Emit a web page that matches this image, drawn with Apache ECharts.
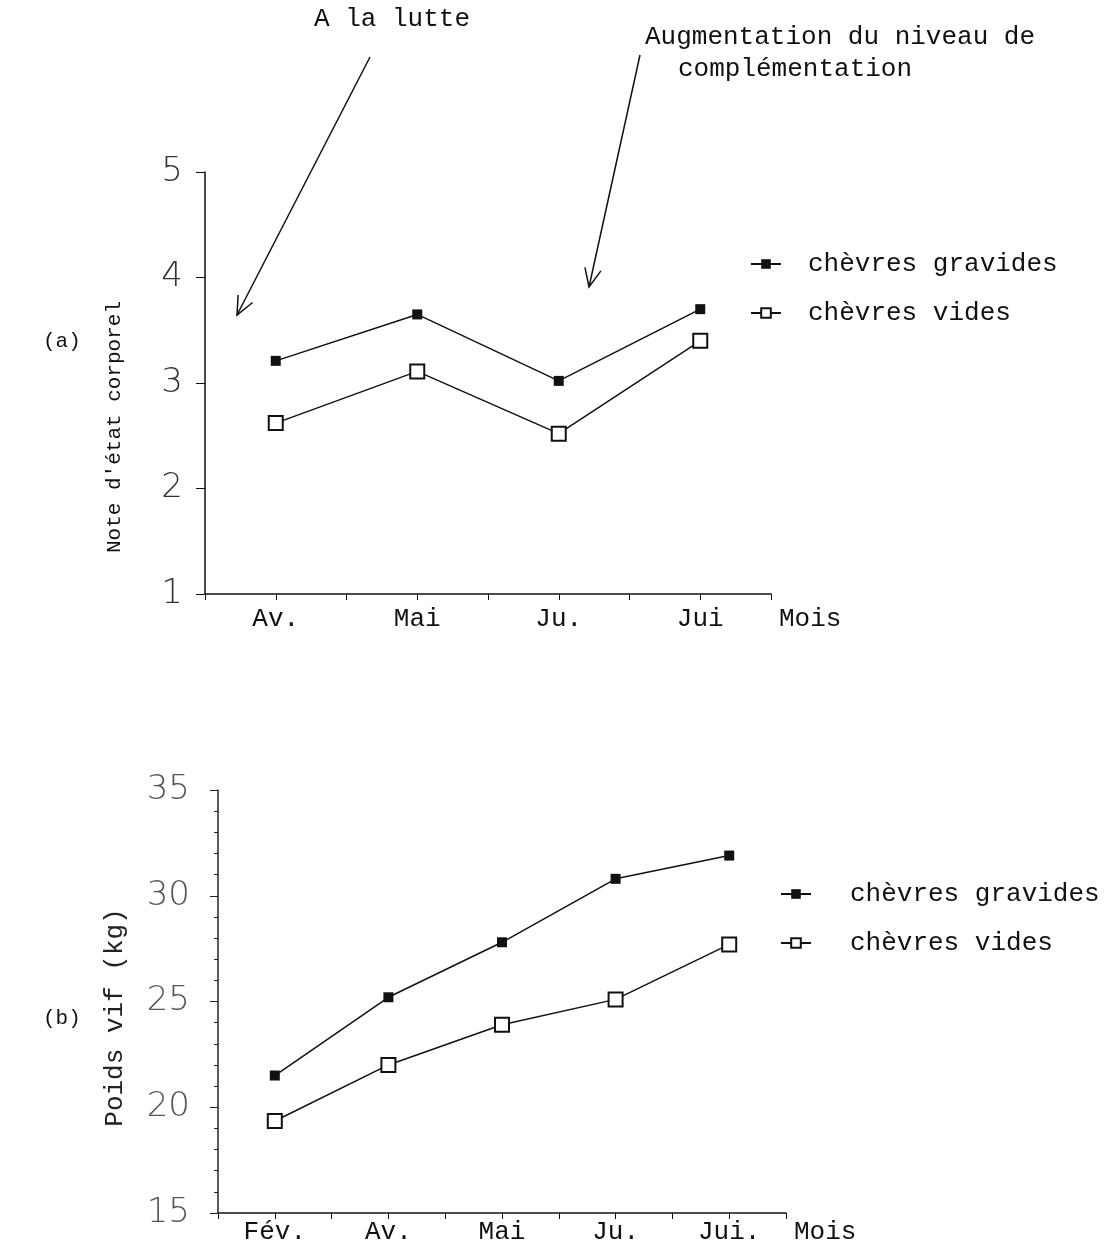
<!DOCTYPE html>
<html>
<head>
<meta charset="utf-8">
<script src="https://cdn.jsdelivr.net/npm/echarts@6/dist/echarts.min.js"></script>
<style>
	html, body { margin: 0; padding: 0; background: #fff; }
	#chart { width: 1119px; height: 1248px; }
</style>
</head>
<body>
<div id="chart"></div>
<script>
// (a) note d'état corporel
const monthsA = [ "Av.", "Mai", "Ju.", "Jui" ];
const slotsA = [ 1, 3, 5, 7 ];
const gravidesA = [ 3.21, 3.65, 3.02, 3.70 ];
const videsA = [ 2.62, 3.11, 2.52, 3.40 ];

// (b) poids vif
const monthsB = [ "Fév.", "Av.", "Mai", "Ju.", "Jui." ];
const slotsB = [ 1, 3, 5, 7, 9 ];
const gravidesB = [ 21.5, 25.2, 27.8, 30.8, 31.9 ];
const videsB = [ 19.35, 22.0, 23.9, 25.1, 27.7 ];

const mono = "Liberation Mono, DejaVu Sans Mono, monospace";
const thin = "DejaVu Sans, sans-serif";

const chart = echarts.init( document.getElementById( "chart" ) );

function labelFor( months, slots ) {
	return v => {
		const i = slots.indexOf( v );
		return i >= 0 ? months[ i ] : "";
	};
}

function arrow( x1, y1, x2, y2 ) {
	const a = Math.atan2( y2 - y1, x2 - x1 );
	const len = 20, spread = 0.42;
	const p1 = [ x2 - len * Math.cos( a - spread ), y2 - len * Math.sin( a - spread ) ];
	const p2 = [ x2 - len * Math.cos( a + spread ), y2 - len * Math.sin( a + spread ) ];
	return [
		{ type: "line", shape: { x1, y1, x2, y2 }, style: { stroke: "#111", lineWidth: 1.5 } },
		{ type: "polyline", shape: { points: [ p1, [ x2, y2 ], p2 ] }, style: { stroke: "#111", lineWidth: 1.5, fill: null } }
	];
}

function xAxisFor( gridIndex, max, months, slots, margin ) {
	return {
		type: "value",
		gridIndex,
		min: 0,
		max,
		interval: 1,
		name: "Mois",
		nameLocation: "end",
		nameGap: 8,
		nameTextStyle: { fontFamily: mono, fontSize: 26, color: "#111", verticalAlign: "top", padding: [ margin, 0, 0, 0 ] },
		axisLine: { lineStyle: { color: "#111", width: 1.5 } },
		axisTick: { inside: false, length: 6, lineStyle: { color: "#111" } },
		axisLabel: { margin, fontFamily: mono, fontSize: 26, color: "#111", formatter: labelFor( months, slots ), showMinLabel: true, showMaxLabel: true },
		splitLine: { show: false }
	};
}

function pairs( slots, vals ) {
	return slots.map( ( s, i ) => [ s, vals[ i ] ] );
}

const gravStyle = {
	symbol: "rect",
	symbolSize: 10,
	lineStyle: { color: "#111", width: 1.5 },
	itemStyle: { color: "#111" }
};
const videStyle = {
	symbol: "emptyRect",
	symbolSize: 14,
	lineStyle: { color: "#111", width: 1.5 },
	itemStyle: { color: "#111", borderWidth: 1.5 }
};

chart.setOption( {
	animation: false,
	backgroundColor: "#fff",
	grid: [
		{ left: 205, top: 172, width: 566, height: 422 },
		{ left: 218, top: 790, width: 568, height: 423 }
	],
	xAxis: [
		xAxisFor( 0, 8, monthsA, slotsA, 12 ),
		xAxisFor( 1, 10, monthsB, slotsB, 6 )
	],
	yAxis: [
		{
			type: "value",
			gridIndex: 0,
			min: 1,
			max: 5,
			interval: 1,
			name: "Note d'état corporel",
			nameLocation: "middle",
			nameRotate: 90,
			nameGap: 80,
			nameTextStyle: { fontFamily: mono, fontSize: 21, color: "#111", padding: [ 0, 88, 0, 0 ] },
			axisLine: { lineStyle: { color: "#111", width: 1.5 } },
			axisTick: { length: 9, lineStyle: { color: "#111" } },
			axisLabel: { margin: 22, fontFamily: thin, fontWeight: 200, fontSize: 34, color: "#333" },
			splitLine: { show: false }
		},
		{
			type: "value",
			gridIndex: 1,
			min: 15,
			max: 35,
			interval: 5,
			name: "Poids vif (kg)",
			nameLocation: "middle",
			nameRotate: 90,
			nameGap: 90,
			nameTextStyle: { fontFamily: mono, fontSize: 26, color: "#222", padding: [ 0, 32, 0, 0 ] },
			axisLine: { lineStyle: { color: "#222", width: 1.5 } },
			axisTick: { length: 8, lineStyle: { color: "#222" } },
			minorTick: { show: true, splitNumber: 5, length: 4, lineStyle: { color: "#222" } },
			axisLabel: { margin: 28, fontFamily: thin, fontWeight: 200, fontSize: 34, color: "#555" },
			splitLine: { show: false }
		}
	],
	legend: [
		{
			orient: "vertical",
			left: 745,
			top: 246,
			itemWidth: 30,
			itemHeight: 12,
			itemGap: 23,
			selectedMode: false,
			textStyle: { fontFamily: mono, fontSize: 26, color: "#111", padding: [ 0, 0, 0, 22 ] },
			data: [ "chèvres gravides", "chèvres vides" ]
		},
		{
			orient: "vertical",
			left: 775,
			top: 876,
			itemWidth: 30,
			itemHeight: 12,
			itemGap: 23,
			selectedMode: false,
			textStyle: { fontFamily: mono, fontSize: 26, color: "#111", padding: [ 0, 0, 0, 34 ] },
			data: [ "chèvres gravides", "chèvres vides" ]
		}
	],
	series: [
		Object.assign( { type: "line", name: "chèvres gravides", xAxisIndex: 0, yAxisIndex: 0, data: pairs( slotsA, gravidesA ) }, gravStyle ),
		Object.assign( { type: "line", name: "chèvres vides", xAxisIndex: 0, yAxisIndex: 0, data: pairs( slotsA, videsA ) }, videStyle ),
		Object.assign( { type: "line", name: "chèvres gravides", xAxisIndex: 1, yAxisIndex: 1, data: pairs( slotsB, gravidesB ) }, gravStyle ),
		Object.assign( { type: "line", name: "chèvres vides", xAxisIndex: 1, yAxisIndex: 1, data: pairs( slotsB, videsB ) }, videStyle )
	],
	graphic: [
		{ type: "text", left: 314, top: 6, style: { text: "A la lutte", font: "26px " + mono, fill: "#111" } },
		{ type: "text", left: 645, top: 24, style: { text: "Augmentation du niveau de", font: "26px " + mono, fill: "#111" } },
		{ type: "text", left: 678, top: 56, style: { text: "complémentation", font: "26px " + mono, fill: "#111" } },
		{ type: "text", left: 43, top: 331, style: { text: "(a)", font: "21px " + mono, fill: "#111" } },
		{ type: "text", left: 43, top: 1008, style: { text: "(b)", font: "21px " + mono, fill: "#111" } },
		...arrow( 370, 57, 237, 315 ),
		...arrow( 640, 55, 589, 287 )
	]
} );
</script>
</body>
</html>
